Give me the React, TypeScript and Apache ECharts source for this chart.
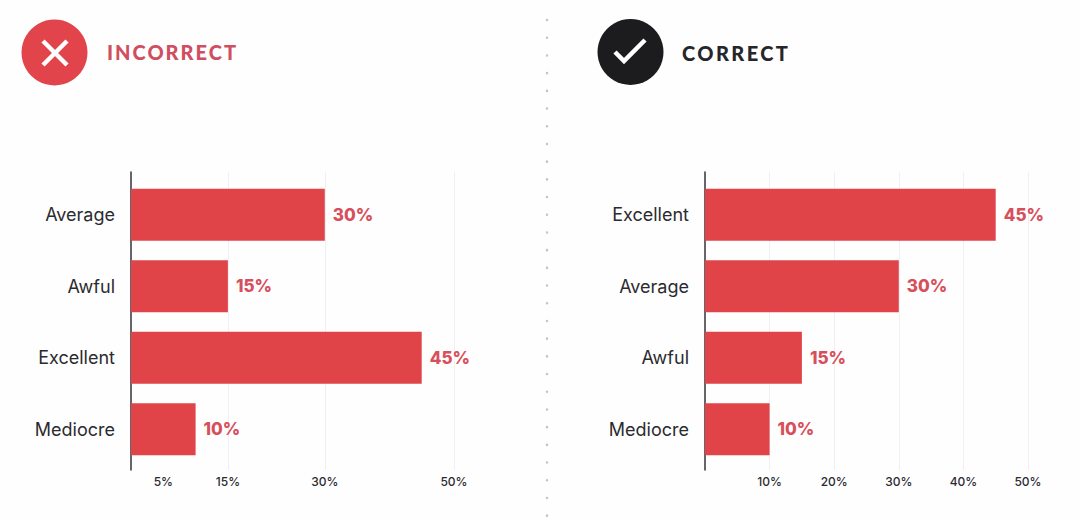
import React, { useEffect, useRef } from "react";
import * as echarts from "echarts";

const wrongCategories = ["Average", "Awful", "Excellent", "Mediocre"];
const wrongValues = [30, 15, 45, 10];
const wrongTicks = [5, 15, 30, 50];
const rightCategories = ["Excellent", "Average", "Awful", "Mediocre"];
const rightValues = [45, 30, 15, 10];
const rightTicks = [10, 20, 30, 40, 50];
const wrongTitle = "INCORRECT";
const rightTitle = "CORRECT";

const RED = "#e04448";
const LABEL_RED = "#d84f5c";
const INK = "#2b2b2f";
const FONT = "Lato";

function panel(index: number, left: number, right: number, cats: string[], vals: number[], ticks: number[]) {
  const frame = index * 2;
  const bars = frame + 1;
  return {
    grid: [
      { left, right, top: 172, bottom: 50 },
      { left, right, top: 179, bottom: 55 },
    ],
    xAxis: [
      {
        gridIndex: frame,
        type: "value",
        min: 0,
        max: 50,
        axisLine: { show: false },
        axisTick: { show: false, customValues: ticks.filter((t) => t >= 10) },
        splitLine: { show: true, lineStyle: { color: "#f0f0f4", width: 1 } },
        axisLabel: {
          customValues: ticks,
          formatter: "{value}%",
          margin: 5,
          fontFamily: "Inter",
          fontSize: 12,
          fontWeight: 500,
          color: INK,
        },
      },
      { gridIndex: bars, type: "value", min: 0, max: 50, show: false },
    ],
    yAxis: [
      {
        gridIndex: frame,
        type: "value",
        min: 0,
        max: 1,
        axisLine: { show: true, onZero: false, lineStyle: { color: "#333338", width: 1.5 } },
        axisTick: { show: false },
        axisLabel: { show: false },
        splitLine: { show: false },
      },
      {
        gridIndex: bars,
        type: "category",
        inverse: true,
        data: cats,
        axisLine: { show: false },
        axisTick: { show: false },
        axisLabel: { margin: 16, fontFamily: "Inter", fontSize: 18, fontWeight: 400, color: INK },
      },
    ],
    series: [
      {
        type: "bar",
        xAxisIndex: bars,
        yAxisIndex: bars,
        data: vals,
        barWidth: 52,
        itemStyle: { color: RED },
        label: {
          show: true,
          position: "right",
          distance: 8,
          formatter: "{c}%",
          fontFamily: "Inter",
          fontSize: 17,
          fontWeight: 800,
          color: LABEL_RED,
        },
      },
    ],
  };
}

export default function App() {
  const ref = useRef<HTMLDivElement>(null);
  useEffect(() => {
    document.body.style.margin = "0";
    document.body.style.background = "#fefefe";
    const chart = echarts.init(ref.current!, null, { renderer: "svg" });
    const a = panel(0, 131, 626, wrongCategories, wrongValues, wrongTicks);
    const b = panel(1, 705, 52, rightCategories, rightValues, rightTicks);
    chart.setOption({
      animation: false,
      backgroundColor: "#fefefe",
      grid: [...a.grid, ...b.grid],
      xAxis: [...a.xAxis, ...b.xAxis],
      yAxis: [...a.yAxis, ...b.yAxis],
      series: [...a.series, ...b.series],
      graphic: [
        { type: "line", silent: true, shape: { x1: 547, y1: 20, x2: 547, y2: 518 },
          style: { stroke: "#c4c4cc", lineWidth: 2.5, lineCap: "round", lineDash: [0.1, 17.6] } },
        { type: "circle", shape: { cx: 54.5, cy: 52.5, r: 33 }, style: { fill: "#e2444b" } },
        { type: "line", shape: { x1: 43, y1: 41, x2: 67, y2: 65 }, style: { stroke: "#fff", lineWidth: 4.5 } },
        { type: "line", shape: { x1: 67, y1: 41, x2: 43, y2: 65 }, style: { stroke: "#fff", lineWidth: 4.5 } },
        { type: "text", x: 107, y: 52, style: { text: wrongTitle, fill: "#cf4f60", fontFamily: FONT, fontSize: 20, fontWeight: 900, verticalAlign: "middle" } },
        { type: "circle", shape: { cx: 630.5, cy: 52, r: 33 }, style: { fill: "#1c1c1e" } },
        { type: "polyline", shape: { points: [[615, 52], [624, 61], [645, 40]] }, style: { stroke: "#fff", fill: "none", lineWidth: 4.5 } },
        { type: "text", x: 682, y: 53, style: { text: rightTitle, fill: "#26262a", fontFamily: FONT, fontSize: 20, fontWeight: 900, verticalAlign: "middle" } },
      ],
    });
    ref.current!.querySelectorAll("text").forEach((t) => {
      if (t.textContent === wrongTitle) t.setAttribute("letter-spacing", "2");
      if (t.textContent === rightTitle) t.setAttribute("letter-spacing", "2.4");
    });
    return () => chart.dispose();
  }, []);
  return <div ref={ref} style={{ width: 1080, height: 520 }} />;
}
